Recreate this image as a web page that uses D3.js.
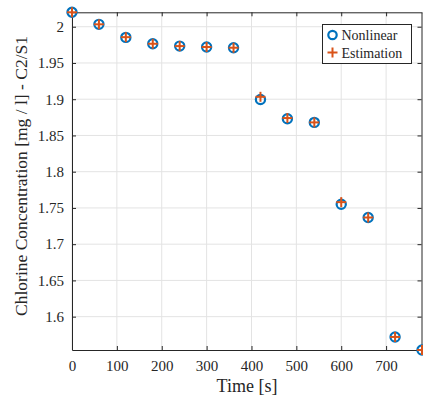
<!DOCTYPE html>
<html>
<head>
<meta charset="utf-8">
<script src="https://cdn.jsdelivr.net/npm/d3@7"></script>
<style>
  body { margin: 0; background: #fff; }
  svg text { font-family: "Liberation Serif", "Times New Roman", serif !important; fill: #262626; }
</style>
</head>
<body>
<div id="chart"></div>
<script>
var svgWidth = 423;
var svgHeight = 400;

// chart values
var times = [0, 60, 120, 180, 240, 300, 360, 420, 480, 540, 600, 660, 720, 780];
var nonlinear = [2.0199, 2.0033, 1.9853, 1.9765, 1.9733, 1.972, 1.971, 1.8997, 1.873, 1.868, 1.755, 1.7368, 1.572, 1.554];
var estimation = [2.0199, 2.0033, 1.9856, 1.9765, 1.9733, 1.972, 1.971, 1.9033, 1.874, 1.868, 1.758, 1.7368, 1.572, 1.554];
var xTicks = [0, 100, 200, 300, 400, 500, 600, 700];
var yTicks = [1.6, 1.65, 1.7, 1.75, 1.8, 1.85, 1.9, 1.95, 2];
var seriesNames = ["Nonlinear", "Estimation"];

var margin = { top: 12.3, right: 1, bottom: 50, left: 72 };
var width = svgWidth - margin.left - margin.right;
var height = svgHeight - margin.top - margin.bottom;

var blue = "#0072BD";
var orange = "#D95319";
var axisColor = "#262626";

var svg = d3.select("#chart")
  .append("svg")
  .attr("width", svgWidth)
  .attr("height", svgHeight);

var chartGroup = svg.append("g")
  .attr("transform", `translate(${margin.left}, ${margin.top})`);

var xScale = d3.scaleLinear()
  .domain([0, 780])
  .range([0, width]);

var yScale = d3.scaleLinear()
  .domain([1.554, 2.0199])
  .range([height, 0]);

// grid
chartGroup.append("g")
  .selectAll("line")
  .data(xTicks)
  .enter()
  .append("line")
  .attr("x1", d => xScale(d))
  .attr("x2", d => xScale(d))
  .attr("y1", 0)
  .attr("y2", height)
  .attr("stroke", "#e3e3e3")
  .attr("stroke-width", 1);

chartGroup.append("g")
  .selectAll("line")
  .data(yTicks)
  .enter()
  .append("line")
  .attr("x1", 0)
  .attr("x2", width)
  .attr("y1", d => yScale(d))
  .attr("y2", d => yScale(d))
  .attr("stroke", "#e3e3e3")
  .attr("stroke-width", 1);

// axes, ticks pointing inward like matlab
var bottomAxis = d3.axisBottom(xScale).tickValues(xTicks).tickSizeInner(-4).tickSizeOuter(0).tickPadding(10);
var leftAxis = d3.axisLeft(yScale).tickValues(yTicks).tickFormat(d => String(d)).tickSizeInner(-4).tickSizeOuter(0).tickPadding(8);
var topAxis = d3.axisTop(xScale).tickValues(xTicks).tickSizeInner(-4).tickSizeOuter(0).tickFormat("");
var rightAxis = d3.axisRight(yScale).tickValues(yTicks).tickSizeInner(-4).tickSizeOuter(0).tickFormat("");

var xAxisG = chartGroup.append("g")
  .attr("transform", `translate(0, ${height})`)
  .call(bottomAxis);
var yAxisG = chartGroup.append("g")
  .call(leftAxis);
var topG = chartGroup.append("g").call(topAxis);
var rightG = chartGroup.append("g").attr("transform", `translate(${width - 0.5}, 0)`).call(rightAxis);

[xAxisG, yAxisG, topG, rightG].forEach(function(g) {
  g.attr("font-family", null);
  g.selectAll("path").attr("stroke", axisColor).attr("stroke-width", 1);
  g.selectAll("line").attr("stroke", axisColor);
  g.selectAll("text")
    .style("font-size", "15px")
    .attr("fill", axisColor);
});

// markers
chartGroup.append("g")
  .selectAll("circle")
  .data(times)
  .enter()
  .append("circle")
  .attr("cx", d => xScale(d))
  .attr("cy", (d, i) => yScale(nonlinear[i]))
  .attr("r", 4.6)
  .attr("fill", "none")
  .attr("stroke", blue)
  .attr("stroke-width", 2.2);

var crossSize = 5;
var crosses = chartGroup.append("g")
  .selectAll("g")
  .data(times)
  .enter()
  .append("g")
  .attr("transform", (d, i) => `translate(${xScale(d)}, ${yScale(estimation[i])})`);
crosses.append("line")
  .attr("x1", -crossSize).attr("x2", crossSize).attr("y1", 0).attr("y2", 0)
  .attr("stroke", orange).attr("stroke-width", 2);
crosses.append("line")
  .attr("x1", 0).attr("x2", 0).attr("y1", -crossSize).attr("y2", crossSize)
  .attr("stroke", orange).attr("stroke-width", 2);

// axis labels
svg.append("text")
  .attr("x", margin.left + xScale(390))
  .attr("y", 392)
  .attr("text-anchor", "middle")
  .style("font-size", "18px")
  .text("Time [s]");

svg.append("text")
  .attr("transform", "rotate(-90)")
  .attr("x", -176)
  .attr("y", 27)
  .attr("text-anchor", "middle")
  .style("font-size", "17.5px")
  .text("Chlorine Concentration [mg / l] - C2/S1");

// legend
var legend = svg.append("g").attr("transform", "translate(322.5, 24.5)");
legend.append("rect")
  .attr("width", 89)
  .attr("height", 39)
  .attr("fill", "#fff")
  .attr("stroke", axisColor)
  .attr("stroke-width", 1);
legend.append("circle")
  .attr("cx", 10).attr("cy", 10.5).attr("r", 4.2)
  .attr("fill", "none").attr("stroke", blue).attr("stroke-width", 2.2);
legend.append("line").attr("x1", 5).attr("x2", 15).attr("y1", 28).attr("y2", 28)
  .attr("stroke", orange).attr("stroke-width", 2);
legend.append("line").attr("x1", 10).attr("x2", 10).attr("y1", 23).attr("y2", 33)
  .attr("stroke", orange).attr("stroke-width", 2);
legend.selectAll("text.lbl")
  .data(seriesNames)
  .enter()
  .append("text")
  .attr("class", "lbl")
  .attr("x", 19)
  .attr("y", (d, i) => 15 + i * 18)
  .style("font-size", "14px")
  .text(d => d);
</script>
</body>
</html>
